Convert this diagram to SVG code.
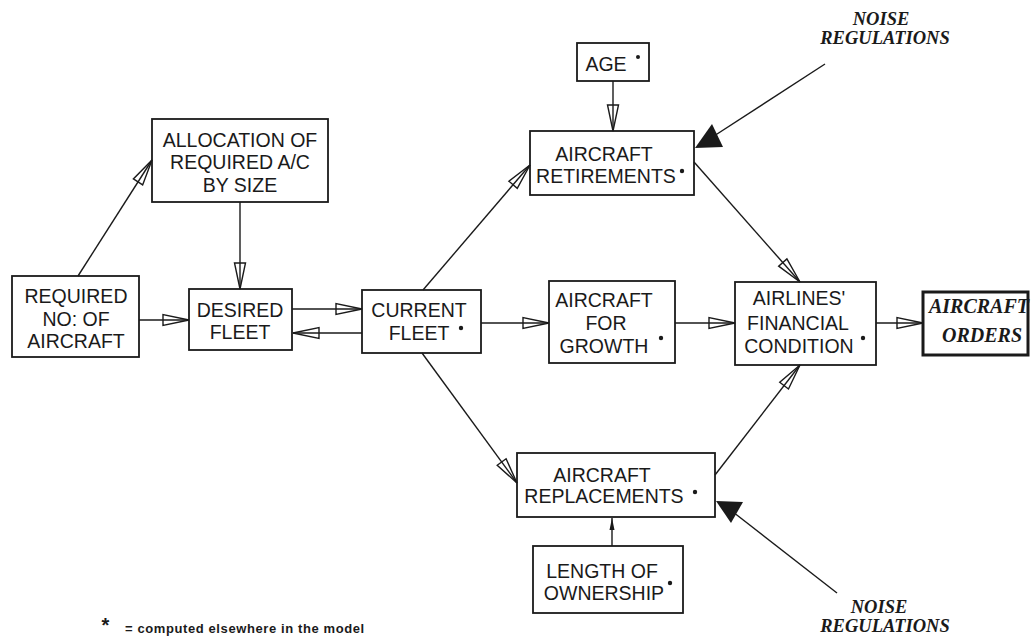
<svg xmlns="http://www.w3.org/2000/svg" width="1031" height="639" viewBox="0 0 1031 639">
<defs>
<style>
.box{fill:none;stroke:#1a1a1a;stroke-width:1.8}
.t{font-family:"Liberation Sans",Arial,sans-serif;font-size:19.5px;fill:#1a1a1a;text-anchor:middle}
.n{font-family:"Liberation Serif","Times New Roman",serif;font-size:18.5px;font-weight:bold;font-style:italic;fill:#1a1a1a;text-anchor:middle}
.c{fill:none;stroke:#1a1a1a;stroke-width:1.4}
.dot{fill:#1a1a1a}
</style>
<marker id="ha" viewBox="-30 -10 32 20" markerWidth="32" markerHeight="20" refX="0" refY="0" orient="auto" markerUnits="userSpaceOnUse">
<path d="M0,0 L-26,-5.5 L-26,5.5 Z" fill="none" stroke="#1a1a1a" stroke-width="1.4" stroke-linejoin="miter"/>
</marker>
<marker id="sa" viewBox="-14 -5 16 10" markerWidth="16" markerHeight="10" refX="0" refY="0" orient="auto" markerUnits="userSpaceOnUse">
<path d="M0,0 L-12,-2.5 L-12,2.5 Z" fill="#1a1a1a"/>
</marker>
</defs>
<rect width="1031" height="639" fill="#ffffff"/>

<g id="connectors">
<line class="c" x1="78" y1="276" x2="152" y2="160" marker-end="url(#ha)"/>
<line class="c" x1="240" y1="202" x2="240" y2="289" marker-end="url(#ha)"/>
<line class="c" x1="139" y1="320" x2="189" y2="320" marker-end="url(#ha)"/>
<line class="c" x1="292" y1="309" x2="362" y2="309" marker-end="url(#ha)"/>
<line class="c" x1="362" y1="333" x2="293" y2="333" marker-end="url(#ha)"/>
<line class="c" x1="423" y1="290" x2="530" y2="165" marker-end="url(#ha)"/>
<line class="c" x1="613" y1="81" x2="613" y2="131" marker-end="url(#ha)"/>
<line class="c" x1="481" y1="323" x2="549" y2="323" marker-end="url(#ha)"/>
<line class="c" x1="675" y1="323" x2="735" y2="323" marker-end="url(#ha)"/>
<line class="c" x1="694" y1="162" x2="800" y2="282" marker-end="url(#ha)"/>
<line class="c" x1="422" y1="353" x2="517" y2="483" marker-end="url(#ha)"/>
<line class="c" x1="715" y1="475" x2="800" y2="365" marker-end="url(#ha)"/>
<line class="c" x1="612" y1="546" x2="612" y2="518" marker-end="url(#sa)"/>
<line class="c" x1="876" y1="323" x2="923" y2="323" marker-end="url(#ha)"/>
<line class="c" x1="825" y1="64" x2="714" y2="136"/>
<polygon points="695,148 712,124 723,147" fill="#1a1a1a"/>
<line class="c" x1="837" y1="593" x2="733" y2="512"/>
<polygon points="716,501 743,502 731,523" fill="#1a1a1a"/>
</g>

<g id="required">
<rect class="box" x="12" y="276" width="127" height="81"/>
<text class="t" x="76" y="303">REQUIRED</text>
<text class="t" x="76" y="326">NO: OF</text>
<text class="t" x="76" y="348">AIRCRAFT</text>
</g>

<g id="allocation">
<rect class="box" x="152" y="119" width="176" height="83"/>
<text class="t" x="240" y="147">ALLOCATION OF</text>
<text class="t" x="240" y="169">REQUIRED A/C</text>
<text class="t" x="240" y="192">BY SIZE</text>
</g>

<g id="desired">
<rect class="box" x="189" y="289" width="103" height="61"/>
<text class="t" x="240" y="317">DESIRED</text>
<text class="t" x="240" y="339">FLEET</text>
</g>

<g id="current">
<rect class="box" x="362" y="290" width="119" height="63"/>
<text class="t" x="419" y="317">CURRENT</text>
<text class="t" x="419" y="340">FLEET</text>
<circle class="dot" cx="461" cy="328" r="2.2"/>
</g>

<g id="age">
<rect class="box" x="577" y="43" width="72" height="38"/>
<text class="t" x="606" y="71">AGE</text>
<circle class="dot" cx="638" cy="57" r="2"/>
</g>

<g id="retirements">
<rect class="box" x="530" y="131" width="164" height="64"/>
<text class="t" x="604" y="161">AIRCRAFT</text>
<text class="t" x="606" y="183">RETIREMENTS</text>
<circle class="dot" cx="682" cy="171" r="2.2"/>
</g>

<g id="growth">
<rect class="box" x="549" y="281" width="126" height="82"/>
<text class="t" x="604" y="307">AIRCRAFT</text>
<text class="t" x="606" y="330">FOR</text>
<text class="t" x="604" y="353">GROWTH</text>
<circle class="dot" cx="661" cy="338" r="2.2"/>
</g>

<g id="airlines">
<rect class="box" x="735" y="282" width="141" height="83"/>
<text class="t" x="799" y="305">AIRLINES'</text>
<text class="t" x="798" y="330">FINANCIAL</text>
<text class="t" x="799" y="353">CONDITION</text>
<circle class="dot" cx="863" cy="338" r="2.2"/>
</g>

<g id="orders">
<rect x="923" y="292" width="105" height="63" fill="none" stroke="#1a1a1a" stroke-width="3"/>
<text class="n" x="979" y="313" style="font-size:20px">AIRCRAFT</text>
<text class="n" x="982" y="342" style="font-size:20px">ORDERS</text>
</g>

<g id="replacements">
<rect class="box" x="517" y="453" width="198" height="64"/>
<text class="t" x="602" y="482">AIRCRAFT</text>
<text class="t" x="604" y="503">REPLACEMENTS</text>
<circle class="dot" cx="695" cy="492" r="2.2"/>
</g>

<g id="length">
<rect class="box" x="533" y="546" width="150" height="67"/>
<text class="t" x="602" y="578">LENGTH OF</text>
<text class="t" x="604" y="600">OWNERSHIP</text>
<circle class="dot" cx="670" cy="583" r="2.2"/>
</g>

<g id="noise-top">
<text class="n" x="881" y="25">NOISE</text>
<text class="n" x="885" y="44">REGULATIONS</text>
</g>

<g id="noise-bottom">
<text class="n" x="879" y="613">NOISE</text>
<text class="n" x="885" y="632">REGULATIONS</text>
</g>

<g id="legend">
<text x="105.5" y="632" style="font-family:'Liberation Sans',Arial,sans-serif;font-size:20px;font-weight:bold;fill:#1a1a1a;text-anchor:middle">*</text>
<text x="125" y="633" style="font-family:'Liberation Sans',Arial,sans-serif;font-size:13px;font-weight:bold;letter-spacing:0.6px;fill:#1a1a1a">= computed elsewhere in the model</text>
</g>
</svg>
